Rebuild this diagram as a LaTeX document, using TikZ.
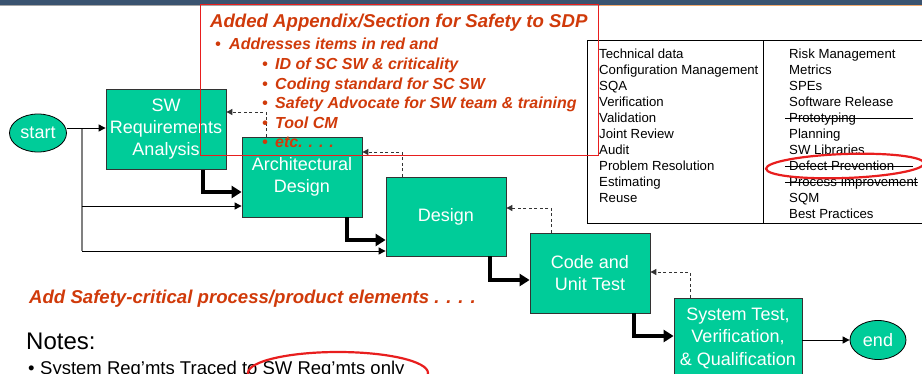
\documentclass[tikz,border=0pt]{standalone}
\usepackage{fontspec}
\setmainfont{Liberation Sans}
\usetikzlibrary{arrows.meta,calc,shapes.geometric}
\definecolor{boxgreen}{RGB}{0,204,153}
\definecolor{redtext}{RGB}{208,58,10}
\definecolor{boxred}{RGB}{232,30,30}
\definecolor{barblue}{RGB}{58,83,112}
\definecolor{barorange}{RGB}{240,170,110}
\begin{document}
\begin{tikzpicture}[x=1pt,y=-1pt,
  stepbox/.style={draw=black!80, line width=0.8pt, fill=boxgreen, text=white, align=center,
    inner sep=0pt, minimum width=120pt, minimum height=80pt, font=\fontsize{18}{22}\selectfont},
  term/.style={ellipse, draw=black, line width=0.8pt, fill=boxgreen, text=white, inner sep=0pt,
    minimum width=57pt, minimum height=38pt, font=\fontsize{18}{22}\selectfont},
  flow/.style={line width=3.5pt, line join=miter, -{Triangle[length=10pt,width=12pt]}},
  thinarrow/.style={line width=1pt, -{Triangle[length=7pt,width=7pt]}},
  back/.style={line width=0.9pt, black!80, dash pattern=on 3pt off 2.5pt, -{Triangle[length=6pt,width=6pt]}},
  grayline/.style={line width=1.4pt, gray},
  tabtext/.style={anchor=base west, inner sep=0pt, font=\fontsize{13.2}{16}\selectfont},
  redtxt/.style={anchor=base west, inner sep=0pt, text=redtext, font=\fontsize{16}{19}\selectfont\bfseries\itshape},
  strike/.style={line width=0.9pt},
  redring/.style={boxred, line width=2.2pt}
]
\useasboundingbox (0,0) rectangle (922,373);
\clip (0,0) rectangle (922,373);

% top bar
\fill[barblue] (0,0) rectangle (922,4.5);
\draw[gray!70, line width=1pt] (0,5.2) -- (600,5.2);
\draw[barorange, line width=1pt] (600,5.2) -- (922,5.2);

% table
\draw[line width=0.8pt] (587,40) rectangle (930,223);
\draw[line width=0.8pt] (763,40) -- (763,223);
\foreach \t [count=\i] in {Technical data, Configuration Management, SQA, Verification, Validation,
  Joint Review, Audit, Problem Resolution, Estimating, Reuse}
  \node[tabtext] (L\i) at (599,{58.7+16*(\i-1)}) {\t};
\foreach \t [count=\i] in {Risk Management, Metrics, SPEs, Software Release, Prototyping,
  Planning, SW Libraries, Defect Prevention, Process Improvement, SQM, Best Practices}
  \node[tabtext] (R\i) at (789,{58.7+16*(\i-1)}) {\t};
\draw[strike] ($(R5.base west)+(-4,-4.7)$) -- ++(128,0);
\draw[strike] ($(R8.base west)+(-4,-4.7)$) -- ++(128,0);
\draw[strike] ($(R9.base west)+(-4,-4.7)$) -- ++(133,0);

% process boxes
\node[term] (start) at (38,133) {start};
\node[stepbox] (SWR) at (166,129.5) {SW\\Requirements\\Analysis};
\node[stepbox] (Arch) at (302,177) {Architectural\\Design};
\node[stepbox, minimum height=79pt] (Des) at (446,216.5) {Design};
\node[stepbox] (Code) at (590,273) {Code and\\Unit Test};
\node[stepbox, minimum width=128pt, font=\fontsize{18}{22.5}\selectfont] (Sys) at (738,338) {System Test,\\Verification,\\\& Qualification};
\node[term, minimum width=56pt, minimum height=39pt] (end) at (878,340) {end};

% start feed lines
\coordinate (tap) at (82,128);
\coordinate (t1) at (82,206);
\coordinate (t2) at (82,251);
\draw[grayline] (tap) -- (t2);
\draw[thinarrow] (start.east |- tap) -- (tap -| SWR.west);
\draw[thinarrow] (t1) -- (t1 -| Arch.west);
\draw[thinarrow] (t2) -- (t2 -| Des.west);

% main flow
\draw[flow] ($(SWR.south)+(37,0)$) |- ($(Arch.west)+(0,15)$);
\draw[flow] ($(Arch.south)+(45,0)$) |- ($(Des.west)+(0,23.5)$);
\draw[flow] ($(Des.south)+(44,0)$) |- ($(Code.west)+(0,7)$);
\draw[flow] ($(Code.south)+(44,0)$) |- ($(Sys.west)+(0,-2)$);

% feedback
\draw[back] ($(Arch.north)+(-36,0)$) |- ($(SWR.east)+(0,-17.5)$);
\draw[back] ($(Des.north)+(-44,0)$) |- ($(Arch.east)+(0,-25)$);
\draw[back] ($(Code.north)+(-39,0)$) |- ($(Des.east)+(0,-8.5)$);
\draw[back] ($(Sys.north)+(-48,0)$) |- ($(Code.east)+(0,-1)$);

\draw[thinarrow] (Sys.east |- end.west) -- (end.west);

% red box with text
\draw[boxred, line width=0.9pt] (200,4.5) rectangle (598,155);
\node[redtxt, font=\fontsize{18.6}{22}\selectfont\bfseries\itshape] (ttl) at (210,27.5) {Added Appendix/Section for Safety to SDP};
\node[redtxt] (b0) at (215,49.7) {•};
\node[redtxt] (a0) at (229,49.7) {Addresses items in red and};
\foreach \t [count=\i] in {ID of SC SW \& criticality, Coding standard for SC SW,
  Safety Advocate for SW team \& training, Tool CM, {etc. . . .}} {
  \node[redtxt] (sb\i) at (262,{69.5+19.5*(\i-1)}) {•};
  \node[redtxt] (st\i) at (275,{69.5+19.5*(\i-1)}) {\t};
}

\node[redtxt, font=\fontsize{18.6}{22}\selectfont\bfseries\itshape] (add) at (29,303.7) {Add Safety-critical process/product elements . . . .};

% notes
\node[anchor=base west, inner sep=0pt, font=\fontsize{24}{28}\selectfont] (notes) at (26,349.6) {Notes:};
\node[anchor=base west, inner sep=0pt, font=\fontsize{18.5}{22}\selectfont] (nb) at (28,374.5) {•};
\node[anchor=base west, inner sep=0pt, font=\fontsize{18.5}{22}\selectfont] (n1) at (40,374.5) {System Req’mts Traced to SW Req’mts only};

% red rings
\draw[redring, rotate around={2:(845,166)}] (845,166) ellipse [x radius=79pt, y radius=12pt];
\draw[redring] (338,373) ellipse [x radius=90pt, y radius=21pt];
\end{tikzpicture}
\end{document}
